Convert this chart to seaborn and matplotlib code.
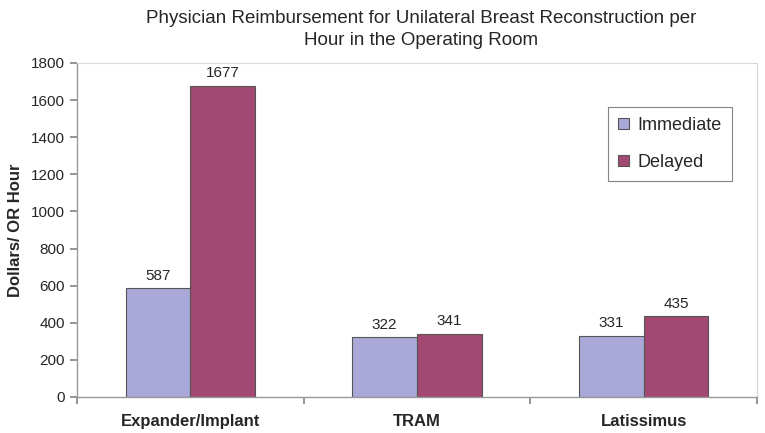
import matplotlib.pyplot as plt
import seaborn as sns
import pandas as pd

sns.set_theme(style="white")
plt.rcParams["font.family"] = ["Liberation Sans", "DejaVu Sans"]

procedures = ["Expander/Implant", "TRAM", "Latissimus"]
immediate = [587, 322, 331]
delayed = [1677, 341, 435]
timing = ["Immediate", "Delayed"]
colors = ["#A9A8D8", "#A34872"]

df = pd.DataFrame({
    "procedure": procedures * 2,
    "timing": [timing[0]] * 3 + [timing[1]] * 3,
    "value": immediate + delayed,
})

fig = plt.figure(figsize=(7.65, 4.33), dpi=100)
ax = fig.add_axes([77 / 765, 1 - 397 / 433, (757 - 77) / 765, (397 - 63) / 433])

sns.barplot(data=df, x="procedure", y="value", hue="timing", hue_order=timing,
            palette=colors, width=0.57, edgecolor="#555555", linewidth=0.8,
            saturation=1, ax=ax)

for cont in ax.containers:
    ax.bar_label(cont, fmt="%d", padding=4, fontsize=11)

ax.set_ylim(0, 1800)
ax.set_yticks(range(0, 1801, 200))
ax.set_xlim(-0.5, 2.5)
ax.set_xticks([-0.5, 0.5, 1.5, 2.5], minor=False)
ax.set_xticklabels([])
ax.set_xticks([0, 1, 2], minor=True)
ax.set_xticklabels(procedures, minor=True, fontweight="bold", fontsize=12)
ax.tick_params(axis="x", which="major", length=5, color="#888888", direction="out", bottom=True)
ax.tick_params(axis="x", which="minor", length=0, pad=12)
ax.tick_params(axis="y", length=5, color="#888888", direction="out", left=True, labelsize=11)
ax.set_xlabel("")
ax.set_ylabel("Dollars/ OR Hour", fontweight="bold", fontsize=12, labelpad=6)

for side in ["top", "right"]:
    ax.spines[side].set_color("#D8D8D8")
    ax.spines[side].set_linewidth(0.8)
for side in ["left", "bottom"]:
    ax.spines[side].set_color("#999999")
    ax.spines[side].set_linewidth(1.0)

leg = ax.legend(loc="upper left", bbox_to_anchor=((608 - 77) / 680, 1 - (107 - 63) / 334),
                borderaxespad=0, fontsize=13, frameon=True, fancybox=False, edgecolor="#666666",
                handlelength=0.6, handleheight=0.6, labelspacing=1.1,
                borderpad=0.55, handletextpad=0.5)
leg.get_frame().set_linewidth(0.8)

fig.text(421 / 765, 1 - 10 / 433, "Physician Reimbursement for Unilateral Breast Reconstruction per\nHour in the Operating Room",
         ha="center", va="top", fontsize=13.5, linespacing=1.35)

fig.savefig("out.png", dpi=100)
